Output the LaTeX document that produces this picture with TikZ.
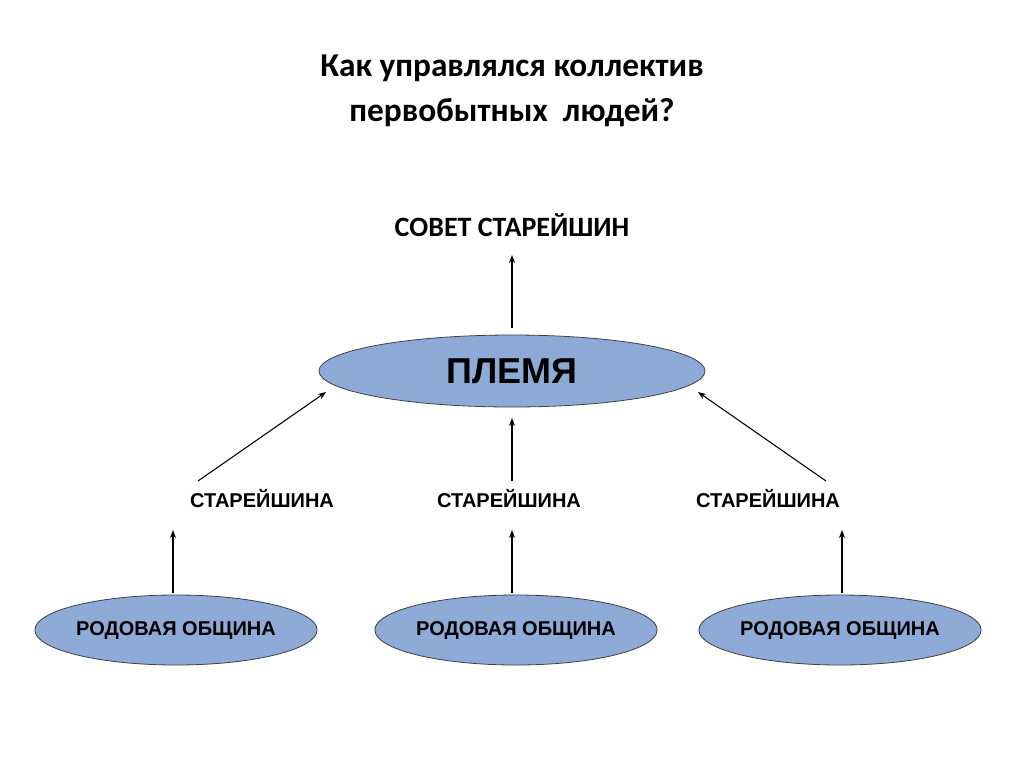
\documentclass[tikz,border=0pt]{standalone}
\usepackage{fontspec}
\setmainfont{Carlito}
\newfontfamily\arialf{Liberation Sans}
\usetikzlibrary{shapes.geometric,arrows.meta}
\definecolor{ellfill}{HTML}{8EAAD6}
\begin{document}
\begin{tikzpicture}[x=0.75pt,y=-0.75pt,
  ell/.style={ellipse,draw=black!75,line width=0.6pt,fill=ellfill,inner sep=0pt},
  lbl/.style={font=\arialf\bfseries\fontsize{15}{18}\selectfont},
  arr/.style={-{Stealth[length=6pt,width=4.5pt]},line width=0.8pt}]
\useasboundingbox[fill=white] (0,0) rectangle (1024,768);
\node[font=\bfseries\fontsize{25}{34}\selectfont,align=center] (title) at (512,91) {Как управлялся коллектив\\первобытных\ \ людей?};
\node[font=\bfseries\fontsize{21}{25}\selectfont] (sovet) at (512,225) {СОВЕТ СТАРЕЙШИН};
\node[ell,minimum width=386*0.75pt,minimum height=72*0.75pt,font=\arialf\bfseries\fontsize{27}{30}\selectfont] (plemya) at (512,371) {ПЛЕМЯ};
\node[lbl] (s1) at (262,499) {СТАРЕЙШИНА};
\node[lbl] (s2) at (509,499) {СТАРЕЙШИНА};
\node[lbl] (s3) at (768,499) {СТАРЕЙШИНА};
\node[ell,lbl,minimum width=248*0.75pt,minimum height=70*0.75pt] (r1) at (176,630) {РОДОВАЯ ОБЩИНА};
\node[ell,lbl,minimum width=250*0.75pt,minimum height=70*0.75pt] (r2) at (516,630) {РОДОВАЯ ОБЩИНА};
\node[ell,lbl,minimum width=250*0.75pt,minimum height=70*0.75pt] (r3) at (840,630) {РОДОВАЯ ОБЩИНА};
\coordinate (a0s) at (512,328); \coordinate (a0e) at (512,255);
\coordinate (a1s) at (198,481); \coordinate (a1e) at (326,392);
\coordinate (a2s) at (512,481); \coordinate (a2e) at (512,418);
\coordinate (a3s) at (826,481); \coordinate (a3e) at (698,392);
\coordinate (b1s) at (173,593); \coordinate (b1e) at (173,530);
\coordinate (b2s) at (512,593); \coordinate (b2e) at (512,530);
\coordinate (b3s) at (842,593); \coordinate (b3e) at (842,530);
\foreach \p in {a0,a1,a2,a3,b1,b2,b3} \draw[arr] (\p s) -- (\p e);
\end{tikzpicture}
\end{document}
